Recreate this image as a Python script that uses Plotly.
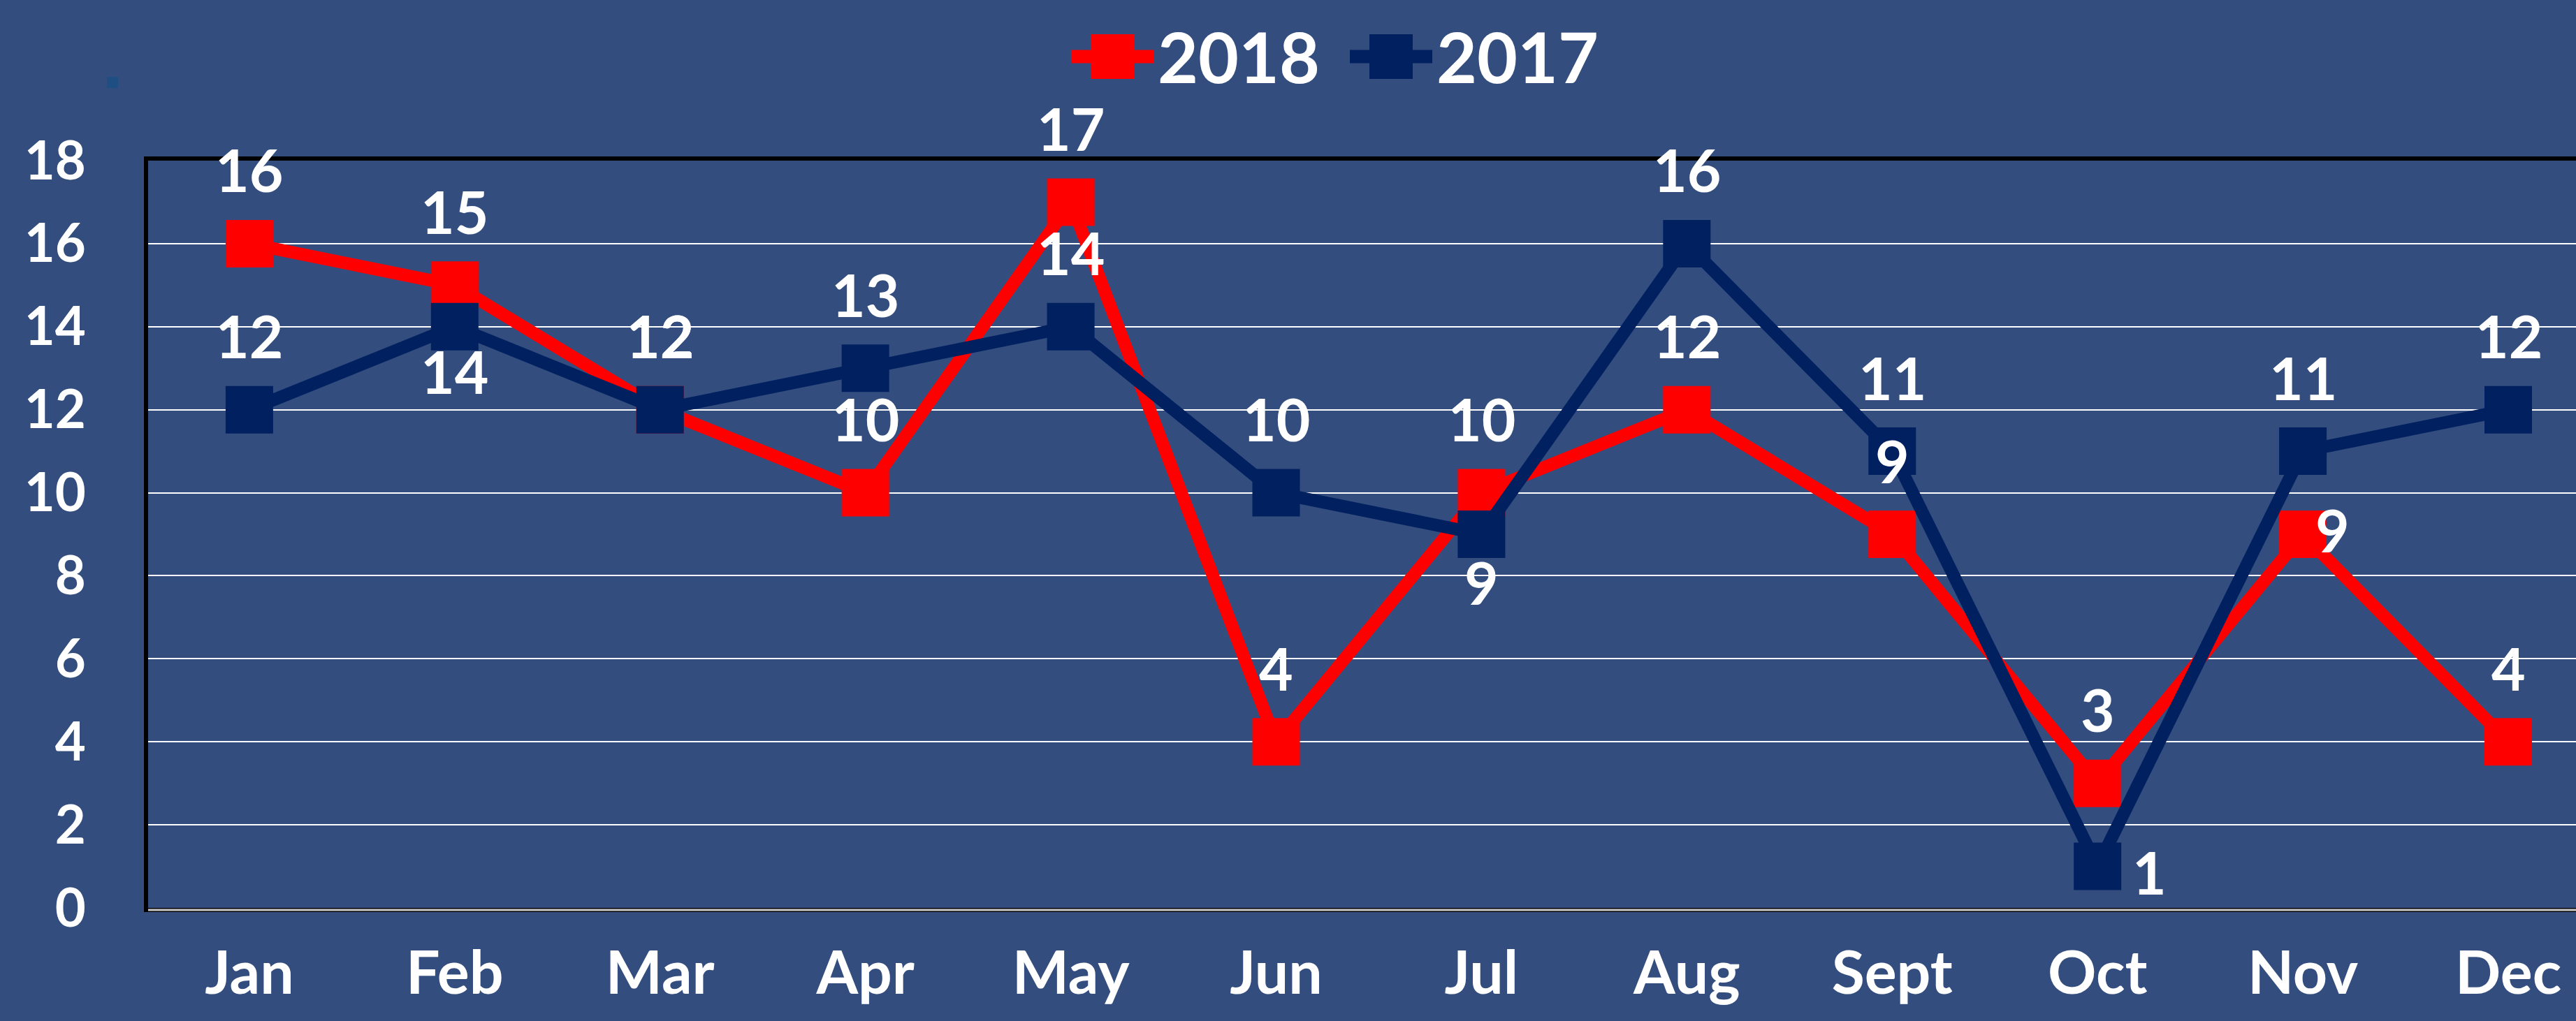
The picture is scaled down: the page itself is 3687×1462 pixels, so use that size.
import plotly.graph_objects as go

months = ["Jan", "Feb", "Mar", "Apr", "May", "Jun", "Jul", "Aug", "Sept", "Oct", "Nov", "Dec"]
y2018 = [16, 15, 12, 10, 17, 4, 10, 12, 9, 3, 9, 4]
y2017 = [12, 14, 12, 13, 14, 10, 9, 16, 11, 1, 11, 12]
y_ticks = [0, 2, 4, 6, 8, 10, 12, 14, 16, 18]

RED = "#FF0000"
NAVY = "#002060"
BG = "#334D7F"
FONT = "Lato"

W, H = 3687, 1462
L, R, T, B = 212, 0, 230, 162
PW, PH = W - L - R, H - T - B

def px(x):
    return (x - L) / PW

def py(y):
    return (H - B - y) / PH

xs = list(range(len(months)))

fig = go.Figure()
fig.add_trace(go.Scatter(
    x=xs, y=y2018, mode="lines+markers", name="2018",
    line=dict(color=RED, width=18),
    marker=dict(symbol="square", size=68, color=RED),
    showlegend=False, hoverinfo="skip",
))
fig.add_trace(go.Scatter(
    x=xs, y=y2017, mode="lines+markers", name="2017",
    line=dict(color=NAVY, width=18),
    marker=dict(symbol="square", size=68, color=NAVY),
    showlegend=False, hoverinfo="skip",
))

# label placement (pixel shifts), default: above the marker
TOP = (0, 106)
special = {
    ("2017", 1): (0, -64),
    ("2017", 6): (0, -68),
    ("2017", 9): (74, -8),
    ("2018", 10): (42, 7),
}

annotations = []
for name, ys in (("2018", y2018), ("2017", y2017)):
    for i, v in enumerate(ys):
        dx, dy = special.get((name, i), TOP)
        annotations.append(dict(
            x=i, y=v, xref="x", yref="y", text=str(v), showarrow=False,
            xshift=dx, yshift=dy, xanchor="center", yanchor="middle",
            font=dict(family=FONT, size=84, color="white", weight="bold"),
        ))

# legend drawn manually
shapes = []
for (x0, x1, sq0, sq1, color, label, tx) in (
    (1534, 1652, 1561, 1624, RED, "2018", 1655),
    (1932, 2050, 1960, 2022, NAVY, "2017", 2054),
):
    shapes.append(dict(type="line", xref="paper", yref="paper",
                       x0=px(x0), x1=px(x1), y0=py(81), y1=py(81),
                       line=dict(color=color, width=19)))
    shapes.append(dict(type="rect", xref="paper", yref="paper",
                       x0=px(sq0), x1=px(sq1), y0=py(113), y1=py(49),
                       fillcolor=color, line=dict(width=0)))
    annotations.append(dict(
        x=px(tx), y=py(80), xref="paper", yref="paper", text=label,
        showarrow=False, xanchor="left", yanchor="middle",
        font=dict(family=FONT, size=100, color="white", weight="bold"),
    ))

# small stray mark at top left
shapes.append(dict(type="rect", xref="paper", yref="paper",
                   x0=px(153), x1=px(169), y0=py(126), y1=py(110),
                   fillcolor="#1F4E83", line=dict(width=0)))

# light line just under the bottom axis
shapes.append(dict(type="line", xref="paper", yref="paper",
                   x0=0, x1=1, y0=py(1303), y1=py(1303),
                   line=dict(color="#C8C8C8", width=3)))

fig.update_layout(
    template="none",
    width=W, height=H, autosize=False,
    margin=dict(l=L, r=R, t=T, b=B, pad=0),
    paper_bgcolor=BG, plot_bgcolor=BG,
    font=dict(family=FONT, color="white"),
    shapes=shapes, annotations=annotations,
    showlegend=False,
)
fig.update_xaxes(
    automargin=False,
    range=[-0.493, 11.33], tickvals=xs, ticktext=months,
    showgrid=False, zeroline=False,
    showline=True, linecolor="black", linewidth=6, mirror=True,
    ticks="outside", ticklen=14, tickcolor="rgba(0,0,0,0)",
    tickfont=dict(family=FONT, size=86, color="white", weight="bold"),
)
fig.update_yaxes(
    automargin=False,
    range=[0, 18], tickvals=y_ticks,
    showgrid=True, gridcolor="white", gridwidth=2, zeroline=False,
    showline=True, linecolor="black", linewidth=6, mirror=False,
    ticks="outside", ticklen=68, tickcolor="rgba(0,0,0,0)",
    tickfont=dict(family=FONT, size=76, color="white", weight="bold"),
)

fig.write_html(
    "out.html",
    config={"displayModeBar": False},
    post_script="document.body.style.margin='0';document.body.style.background='%s';" % BG,
)
